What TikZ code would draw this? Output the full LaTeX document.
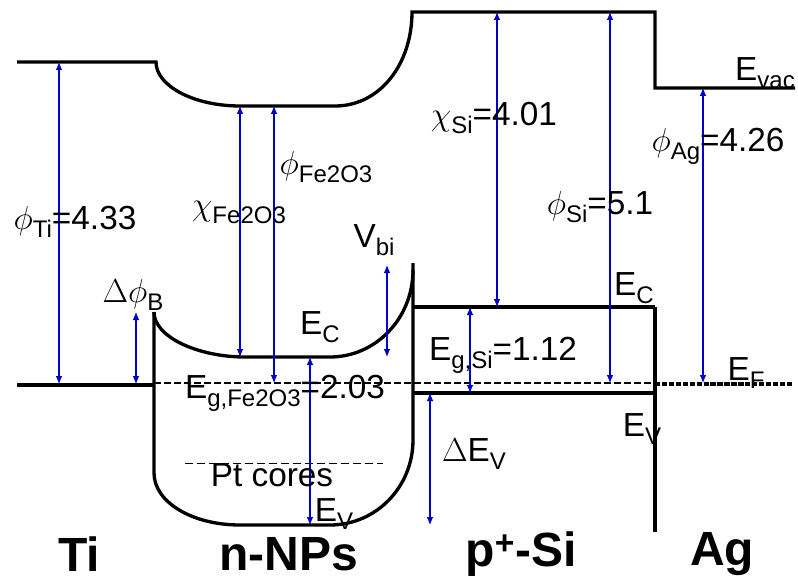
\documentclass[tikz,border=0pt]{standalone}
\usepackage{fontspec}
\setmainfont{Liberation Sans}
\usetikzlibrary{arrows.meta}
\definecolor{arrblue}{RGB}{0,0,205}
\newcommand{\lowsub}[1]{\raisebox{-6pt}{\fontsize{18}{18}\selectfont #1}}
\begin{document}
\begin{tikzpicture}[x=0.75pt,y=-0.75pt,
  band/.style={line width=2.5pt,black},
  efdash/.style={line width=1.4pt,dash pattern=on 5pt off 2.5pt},
  agef/.style={line width=2.6pt,dash pattern=on 4pt off 1.2pt},
  ptdash/.style={line width=0.6pt,dash pattern=on 6pt off 3pt},
  gap/.style={arrblue,line width=0.8pt,{Latex[length=6pt,width=5pt]}-{Latex[length=6pt,width=5pt]}},
  lbl/.style={inner sep=0pt,font=\fontsize{25}{30}\selectfont},
  mat/.style={inner sep=0pt,font=\fontsize{36}{40}\selectfont\bfseries}]
\useasboundingbox (0,0) rectangle (798,581);
% band lines
\draw[band] (17,62) -- (156,62) .. controls (156,86) and (194,106) .. (240,106)
  -- (335,106) .. controls (380,106) and (412,64) .. (412,12) -- (655,12) -- (655,88) -- (795,88);
\draw[band] (17,385) -- (154,385);
\draw[band] (154,312) .. controls (154,337) and (198,357) .. (245,357) -- (330,357)
  .. controls (376,357) and (413,318) .. (413,270);
\draw[band] (154,312) -- (154,473) .. controls (154,502) and (192,525) .. (240,525) -- (330,525)
  .. controls (376,525) and (413,487) .. (413,440) -- (413,263);
\draw[band] (413,307) -- (655,307);
\draw[band] (413,393) -- (655,393);
\draw[band] (655,307) -- (655,532);
\draw[efdash] (154,383) -- (655,383);
\draw[agef] (655,384) -- (793,384);
\draw[ptdash] (185,463) -- (383,463);
% arrow end points
\coordinate (tiT) at (59,62);   \coordinate (tiB) at (59,384);
\coordinate (dbT) at (136,312); \coordinate (dbB) at (136,384);
\coordinate (chT) at (240,106); \coordinate (chB) at (240,357);
\coordinate (phT) at (274,106); \coordinate (phB) at (274,383);
\coordinate (vbT) at (387,265); \coordinate (vbB) at (387,357);
\coordinate (egT) at (310,357); \coordinate (egB) at (310,525);
\coordinate (csT) at (497,12);  \coordinate (csB) at (497,307);
\coordinate (gsT) at (470,307); \coordinate (gsB) at (470,393);
\coordinate (evT) at (430,393); \coordinate (evB) at (430,525);
\coordinate (psT) at (610,12);  \coordinate (psB) at (610,383);
\coordinate (paT) at (703,88);  \coordinate (paB) at (703,383);
\foreach \a in {ti,db,ch,ph,vb,eg,cs,gs,ev,ps,pa} \draw[gap] (\a T) -- (\a B);
% labels
\node[lbl] (lphti) at (75,222) {$\phi$\lowsub{Ti}=4.33};
\node[lbl] (ldphb) at (133,295) {$\Delta\phi$\lowsub{B}};
\node[lbl] (lchfe) at (239,212) {$\chi$\lowsub{Fe2O3}};
\node[lbl] (lphfe) at (326,167) {$\phi$\lowsub{Fe2O3}};
\node[lbl] (lvbi) at (374,240) {V\lowsub{bi}};
\node[lbl] (lecn) at (320,327) {E\lowsub{C}};
\node[lbl] (legfe) at (285,393) {E\lowsub{g,Fe2O3}=2.03};
\node[lbl] (lpt) at (272,475) {Pt cores};
\node[lbl] (levn) at (334,514) {E\lowsub{V}};
\node[lbl] (lchsi) at (494,118) {$\chi$\lowsub{Si}=4.01};
\node[lbl] (lphsi) at (600,207) {$\phi$\lowsub{Si}=5.1};
\node[lbl] (lphag) at (718,146) {$\phi$\lowsub{Ag}=4.26};
\node[lbl] (levac) at (765,73) {E\lowsub{vac}};
\node[lbl] (lecs) at (634,288) {E\lowsub{C}};
\node[lbl] (legsi) at (503,355) {E\lowsub{g,Si}=1.12};
\node[lbl] (levs) at (642,429) {E\lowsub{V}};
\node[lbl] (ldev) at (474,454) {$\Delta$E\lowsub{V}};
\node[lbl] (lef) at (746,373) {E\lowsub{F}};
\node[mat] (mti) at (79,554) {Ti};
\node[mat] (mnp) at (289,554) {n-NPs};
\node[mat] (msi) at (521,554) {p\textsuperscript{+}-Si};
\node[mat] (mag) at (722,554) {Ag};
\end{tikzpicture}
\end{document}
